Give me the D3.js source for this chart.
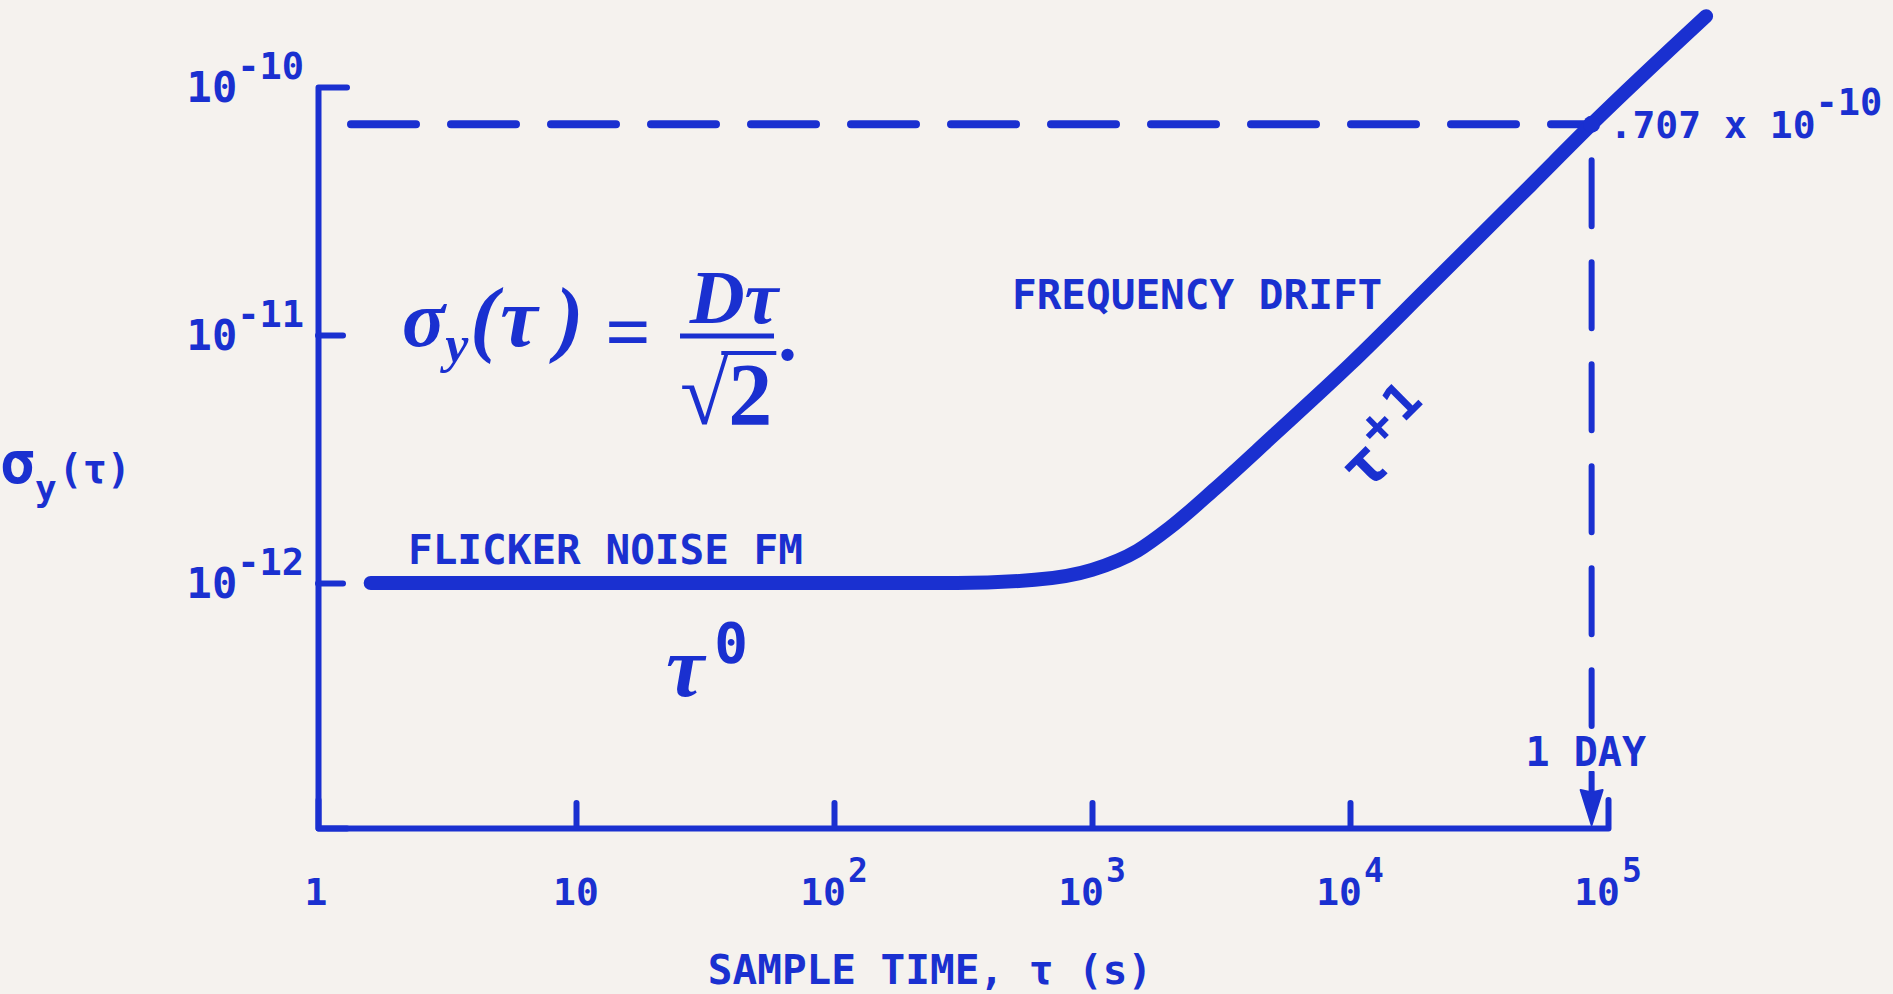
<!DOCTYPE html>
<html>
<head>
<meta charset="utf-8">
<script src="https://cdn.jsdelivr.net/npm/d3@7"></script>
<style>
  html, body { margin: 0; padding: 0; background: #f5f2ee; }
  svg { display: block; }
</style>
</head>
<body>
<svg id="chart" width="1893" height="994"></svg>
<script>
// Allan deviation σy(τ) versus sample time: flicker FM floor turning into drift
const tau   = [1.6, 10, 100, 300, 600, 1000, 1500, 2000, 3000, 5000, 1e4, 2e4, 5e4, 86400, 2.4e5];
const sigma = [1.0e-12, 1.0e-12, 1.0e-12, 1.0e-12, 1.03e-12, 1.13e-12, 1.35e-12, 1.67e-12,
               2.4e-12, 3.9e-12, 7.6e-12, 1.55e-11, 4.0e-11, 7.07e-11, 1.93e-10];

// axis ticks and their labels
const xTicks    = [1, 10, 100, 1e3, 1e4, 1e5];
const xTickBase = ["1", "10", "10", "10", "10", "10"];
const xTickExp  = ["", "", "2", "3", "4", "5"];
const yTicks    = [1e-10, 1e-11, 1e-12];
const yTickExp  = ["-10", "-11", "-12"];

// one-day reference point
const oneDay   = 86400;      // s
const dayLevel = 0.707e-10;  // σy at one day

// ---- layout ----
const W = 1893, H = 994;
const plotLeft = 318, plotTop = 87;
const xDecade = 258, yDecade = 248;
const axisY = 828;
const ink = "#1a30d0";
const paper = "#f5f2ee";
const mono = "'DejaVu Sans Mono', monospace";
const serif = "'Liberation Serif', 'Times New Roman', serif";

const svg = d3.select("#chart");
svg.append("rect").attr("width", W).attr("height", H).attr("fill", paper);

const xScale = d3.scaleLog().domain([1, 1e5]).range([plotLeft, plotLeft + 5 * xDecade]);
const yScale = d3.scaleLog().domain([1e-12, 1e-10]).range([plotTop + 2 * yDecade, plotTop]);
// the vertical axis line runs down to the time axis
const yAxisScale = d3.scaleLog().domain([yScale.invert(axisY), 1e-10]).range([axisY, plotTop]);

// ---- axes ----
function styleAxis(g) {
  g.style("color", ink);
  g.select(".domain").attr("stroke-width", 6).attr("stroke-linecap", "round").attr("stroke-linejoin", "round");
  g.selectAll(".tick line").attr("stroke-width", 6).attr("stroke-linecap", "round");
  g.selectAll(".tick text").remove();
}

svg.append("g")
  .attr("transform", `translate(0,${axisY})`)
  .call(d3.axisBottom(xScale).tickValues(xTicks.slice(1, -1)).tickSize(-25).tickSizeOuter(-28).tickFormat(() => ""))
  .call(styleAxis);

svg.append("g")
  .attr("transform", `translate(${plotLeft},0)`)
  .call(d3.axisLeft(yAxisScale).tickValues(yTicks.slice(1)).tickSize(-25).tickSizeOuter(-29).tickFormat(() => ""))
  .call(styleAxis);

// ---- tick labels ----
const xLab = svg.append("g").attr("fill", ink).attr("font-family", mono).attr("font-weight", "bold");
xTicks.forEach((v, i) => {
  const t = xLab.append("text")
    .attr("x", xScale(v) - (i === 0 ? 2 : 0))
    .attr("y", 905)
    .attr("text-anchor", "middle");
  t.append("tspan").attr("font-size", 38).text(xTickBase[i]);
  if (xTickExp[i]) t.append("tspan").attr("font-size", 33).attr("dy", -23).attr("dx", 2).text(xTickExp[i]);
});

const yLab = svg.append("g").attr("fill", ink).attr("font-family", mono).attr("font-weight", "bold");
yTicks.forEach((v, i) => {
  const t = yLab.append("text")
    .attr("x", 304)
    .attr("y", yScale(v) + 15)
    .attr("text-anchor", "end");
  t.append("tspan").attr("font-size", 42).text("10");
  t.append("tspan").attr("font-size", 37).attr("dy", -23).text(yTickExp[i]);
});

// ---- axis titles ----
const yTitle = svg.append("text")
  .attr("x", 0).attr("y", 483)
  .attr("fill", ink).attr("font-family", mono).attr("font-weight", "bold");
yTitle.append("tspan").attr("font-size", 58).text("σ");
yTitle.append("tspan").attr("font-size", 36).attr("dy", 18).text("y");
yTitle.append("tspan").attr("font-size", 40).attr("dx", 2).attr("dy", -18).text("(τ)");

svg.append("text")
  .attr("x", 930).attr("y", 984)
  .attr("text-anchor", "middle")
  .attr("fill", ink).attr("font-family", mono).attr("font-weight", "bold").attr("font-size", 41)
  .text("SAMPLE TIME, τ (s)");

// ---- one-day reference lines ----
const xDay = xScale(oneDay), yDay = yScale(dayLevel);

svg.append("line")
  .attr("x1", plotLeft + 33).attr("x2", xDay)
  .attr("y1", yDay).attr("y2", yDay)
  .attr("stroke", ink).attr("stroke-width", 8).attr("stroke-linecap", "round")
  .attr("stroke-dasharray", "65 35");

svg.append("line")
  .attr("x1", xDay).attr("x2", xDay)
  .attr("y1", yDay + 36).attr("y2", 726)
  .attr("stroke", ink).attr("stroke-width", 6).attr("stroke-linecap", "round")
  .attr("stroke-dasharray", "66 36");

svg.append("text")
  .attr("x", xDay - 66).attr("y", 766)
  .attr("fill", ink).attr("font-family", mono).attr("font-weight", "bold").attr("font-size", 40)
  .attr("xml:space", "preserve")
  .text("1 DAY");

// arrow pointing at one day on the time axis
svg.append("path")
  .attr("d", `M${xDay},${axisY - 3} L${xDay - 11},${axisY - 38} L${xDay - 2},${axisY - 36} L${xDay - 2},${axisY - 56}
              L${xDay + 2},${axisY - 56} L${xDay + 2},${axisY - 36} L${xDay + 11},${axisY - 38} Z`)
  .attr("fill", ink).attr("stroke", ink).attr("stroke-width", 2).attr("stroke-linejoin", "round");

// ---- the σy(τ) curve ----
const pts = tau.map((t, i) => [t, sigma[i]]);
const line = d3.line()
  .x(d => xScale(d[0]))
  .y(d => yScale(d[1]))
  .curve(d3.curveMonotoneX);

svg.append("path")
  .datum(pts)
  .attr("d", line)
  .attr("fill", "none")
  .attr("stroke", ink).attr("stroke-width", 14)
  .attr("stroke-linecap", "round").attr("stroke-linejoin", "round");

svg.append("circle").attr("cx", xDay).attr("cy", yDay).attr("r", 8.5).attr("fill", ink);

// value at one day
const dayLab = svg.append("text")
  .attr("x", xDay + 18).attr("y", yDay + 14)
  .attr("fill", ink).attr("font-family", mono).attr("font-weight", "bold")
  .attr("xml:space", "preserve");
dayLab.append("tspan").attr("font-size", 38).text(".707 x 10");
dayLab.append("tspan").attr("font-size", 37).attr("dy", -23).text("-10");

// ---- region labels ----
const lab = svg.append("g").attr("fill", ink).attr("font-family", mono).attr("font-weight", "bold").attr("font-size", 41);
lab.append("text").attr("x", 408).attr("y", 564).attr("xml:space", "preserve").text("FLICKER NOISE FM");
lab.append("text").attr("x", 1012).attr("y", 309).attr("xml:space", "preserve").text("FREQUENCY DRIFT");

// τ^0 slope label
const t0 = svg.append("text").attr("x", 666).attr("y", 696).attr("fill", ink);
t0.append("tspan").attr("font-family", serif).attr("font-weight", "bold").attr("font-style", "italic")
  .attr("font-size", 86).text("τ");
t0.append("tspan").attr("font-family", mono).attr("font-weight", "bold")
  .attr("font-size", 56).attr("dx", 10).attr("dy", -34).text("0");

// τ^+1 slope label, along the drift line
const t1 = svg.append("text")
  .attr("transform", "translate(1366,495) rotate(-45)")
  .attr("fill", ink).attr("font-family", mono).attr("font-weight", "bold");
t1.append("tspan").attr("font-size", 64).text("τ");
t1.append("tspan").attr("font-size", 50).attr("dx", 2).attr("dy", -24).attr("letter-spacing", 6).text("+1");

// ---- formula σy(τ) = Dτ/√2 ----
const f = svg.append("g").attr("fill", ink).attr("font-family", serif)
  .attr("font-weight", "bold").attr("font-style", "italic");
const lhs = f.append("text").attr("x", 402).attr("y", 346);
lhs.append("tspan").attr("font-size", 80).text("σ");
lhs.append("tspan").attr("font-size", 52).attr("dy", 16).text("y");
lhs.append("tspan").attr("font-size", 84).attr("dx", 2).attr("dy", -16).text("(");
lhs.append("tspan").attr("font-size", 84).attr("dx", 2).text("τ");
lhs.append("tspan").attr("font-size", 84).attr("dx", 18).text(")");
f.append("text").attr("x", 628).attr("y", 359).attr("text-anchor", "middle")
  .attr("font-size", 80).attr("font-style", "normal").text("=");
f.append("text").attr("x", 734).attr("y", 323).attr("text-anchor", "middle")
  .attr("font-size", 76).text("Dτ");
f.append("line").attr("x1", 680).attr("x2", 774).attr("y1", 336).attr("y2", 336)
  .attr("stroke", ink).attr("stroke-width", 5);
const denX = 680, denSize = 88;
const den = f.append("text").attr("x", denX).attr("y", 424).attr("font-style", "normal").attr("font-size", denSize)
  .text("√2");
// vinculum of the radical, over the 2
let radW = NaN, denW = NaN;
try {
  radW = den.node().getSubStringLength(0, 1);
  denW = den.node().getComputedTextLength();
} catch (e) { /* measured below */ }
if (!isFinite(radW) || radW <= 0) radW = 0.55 * denSize;
if (!isFinite(denW) || denW <= radW) denW = radW + 0.5 * denSize;
f.append("line")
  .attr("x1", denX + radW - 5).attr("x2", denX + denW + 2)
  .attr("y1", 353).attr("y2", 353)
  .attr("stroke", ink).attr("stroke-width", 4).attr("stroke-linecap", "square");
f.append("text").attr("x", 778).attr("y", 360).attr("font-size", 76).attr("font-style", "normal").text(".");
</script>
</body>
</html>
